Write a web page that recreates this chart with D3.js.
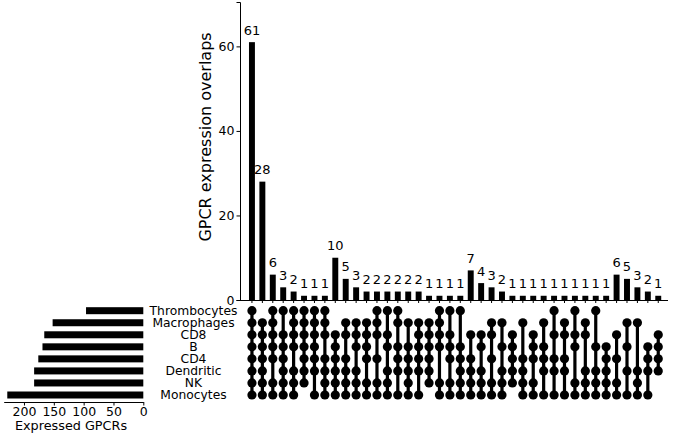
<!DOCTYPE html>
<html>
<head>
<meta charset="utf-8">
<script src="https://cdn.jsdelivr.net/npm/d3@7"></script>
<style>
  body { margin: 0; background: #fff; }
  svg text { font-family: "DejaVu Sans", sans-serif; fill: #000; }
</style>
</head>
<body>
<div id="chart"></div>
<script>
// sets, top to bottom in the matrix
var sets = ["Thrombocytes", "Macrophages", "CD8", "B", "CD4", "Dendritic", "NK", "Monocytes"];
var setSizes = [96, 152, 166, 169, 176, 183, 183, 228];

// intersection sizes, left to right
var counts = [61, 28, 6, 3, 2, 1, 1, 1,
  10, 5, 3, 2, 2, 2, 2, 2, 2, 1, 1, 1, 1,
  7, 4, 3, 2, 1, 1, 1, 1, 1, 1, 1, 1, 1, 1,
  6, 5, 3, 2, 1];

// membership of each intersection, one char per set (same order as sets)
var members = ["11111111",
  "01111111", "11111011", "10111111", "11110111", "11111110", "11111101", "11101111",
  "00111111", "01101111", "01110111", "01111011", "11101011", "10110111", "11011101",
  "01011111", "01111101", "01111110", "11110011", "10111011", "10011111",
  "00101111", "00110111", "01101011", "01010111", "00111110", "01001111", "00111011",
  "01011101", "10101101", "01101101", "10110011", "01100111", "10010111", "00011111",
  "00101011", "01010101", "01000111", "00011101", "00111100"];

var yTicks = [0, 20, 40, 60];
var sizeTicks = [0, 50, 100, 150, 200];

var width = 674, height = 435;

var svg = d3.select("#chart").append("svg")
  .attr("width", width)
  .attr("height", height);

var cols = d3.range(counts.length);

// scales
var xScale = d3.scaleBand()
  .domain(cols)
  .range([244.5, 665.7])
  .padding(0.43);

var yScale = d3.scaleLinear()
  .domain([0, 70.5])
  .range([300, 2]);

var rowScale = d3.scalePoint()
  .domain(sets)
  .range([310.7, 395]);

var sizeScale = d3.scaleLinear()
  .domain([0, 234])
  .range([143.3, 3.7]);

// intersection bars
svg.append("g").selectAll("rect")
  .data(cols)
  .enter()
  .append("rect")
  .attr("x", d => xScale(d))
  .attr("y", d => yScale(counts[d]))
  .attr("width", xScale.bandwidth())
  .attr("height", d => yScale(0) - yScale(counts[d]))
  .attr("fill", "#000");

svg.append("g").selectAll("text")
  .data(cols)
  .enter()
  .append("text")
  .attr("x", d => xScale(d) + xScale.bandwidth() / 2)
  .attr("y", d => yScale(counts[d]) - 7.5)
  .attr("text-anchor", "middle")
  .style("font-size", "13px")
  .text(d => counts[d]);

// axes of the top chart
var yAxis = svg.append("g")
  .attr("transform", "translate(240,0)")
  .call(d3.axisLeft(yScale).tickValues(yTicks).tickSize(3.5).tickPadding(2));

var xAxis = svg.append("g")
  .attr("transform", "translate(0,300)")
  .call(d3.axisBottom(xScale).tickFormat("").tickSize(3).tickSizeOuter(0));
xAxis.select(".domain").attr("d", "M240,0.5H668");

[yAxis, xAxis].forEach(function(a) {
  a.selectAll("path, line").attr("stroke", "#000").attr("stroke-width", 1);
  a.selectAll("text").style("font-size", "12.5px").attr("font-family", null);
});

svg.append("text")
  .attr("transform", "translate(211,137) rotate(-90)")
  .attr("text-anchor", "middle")
  .style("font-size", "16px")
  .text("GPCR expression overlaps");

// matrix: connecting lines then dots
var matrix = svg.append("g");

matrix.selectAll("line")
  .data(cols)
  .enter()
  .append("line")
  .attr("x1", d => xScale(d) + xScale.bandwidth() / 2)
  .attr("x2", d => xScale(d) + xScale.bandwidth() / 2)
  .attr("y1", d => rowScale(sets[members[d].indexOf("1")]))
  .attr("y2", d => rowScale(sets[members[d].lastIndexOf("1")]))
  .attr("stroke", "#000")
  .attr("stroke-width", 3.2);

var dots = [];
cols.forEach(function(c) {
  sets.forEach(function(s, i) {
    if (members[c][i] === "1") dots.push({ col: c, set: s });
  });
});

matrix.selectAll("circle")
  .data(dots)
  .enter()
  .append("circle")
  .attr("cx", d => xScale(d.col) + xScale.bandwidth() / 2)
  .attr("cy", d => rowScale(d.set))
  .attr("r", 4.6)
  .attr("fill", "#000");

// set size bars
svg.append("g").selectAll("rect")
  .data(sets)
  .enter()
  .append("rect")
  .attr("x", (d, i) => sizeScale(setSizes[i]))
  .attr("y", d => rowScale(d) - 3.5)
  .attr("width", (d, i) => sizeScale(0) - sizeScale(setSizes[i]))
  .attr("height", 7)
  .attr("fill", "#000");

svg.append("g").selectAll("text")
  .data(sets)
  .enter()
  .append("text")
  .attr("x", 193.5)
  .attr("y", d => rowScale(d))
  .attr("dy", "0.36em")
  .attr("text-anchor", "middle")
  .style("font-size", "12.3px")
  .text(d => d);

var sizeAxis = svg.append("g")
  .attr("transform", "translate(0,402)")
  .call(d3.axisBottom(sizeScale).tickValues(sizeTicks).tickSize(3.5).tickSizeOuter(0).tickPadding(2));
sizeAxis.selectAll("path, line").attr("stroke", "#000");
sizeAxis.selectAll("text").style("font-size", "12.5px").attr("font-family", null);

svg.append("text")
  .attr("x", 71)
  .attr("y", 430)
  .attr("text-anchor", "middle")
  .style("font-size", "12.8px")
  .text("Expressed GPCRs");
</script>
</body>
</html>
